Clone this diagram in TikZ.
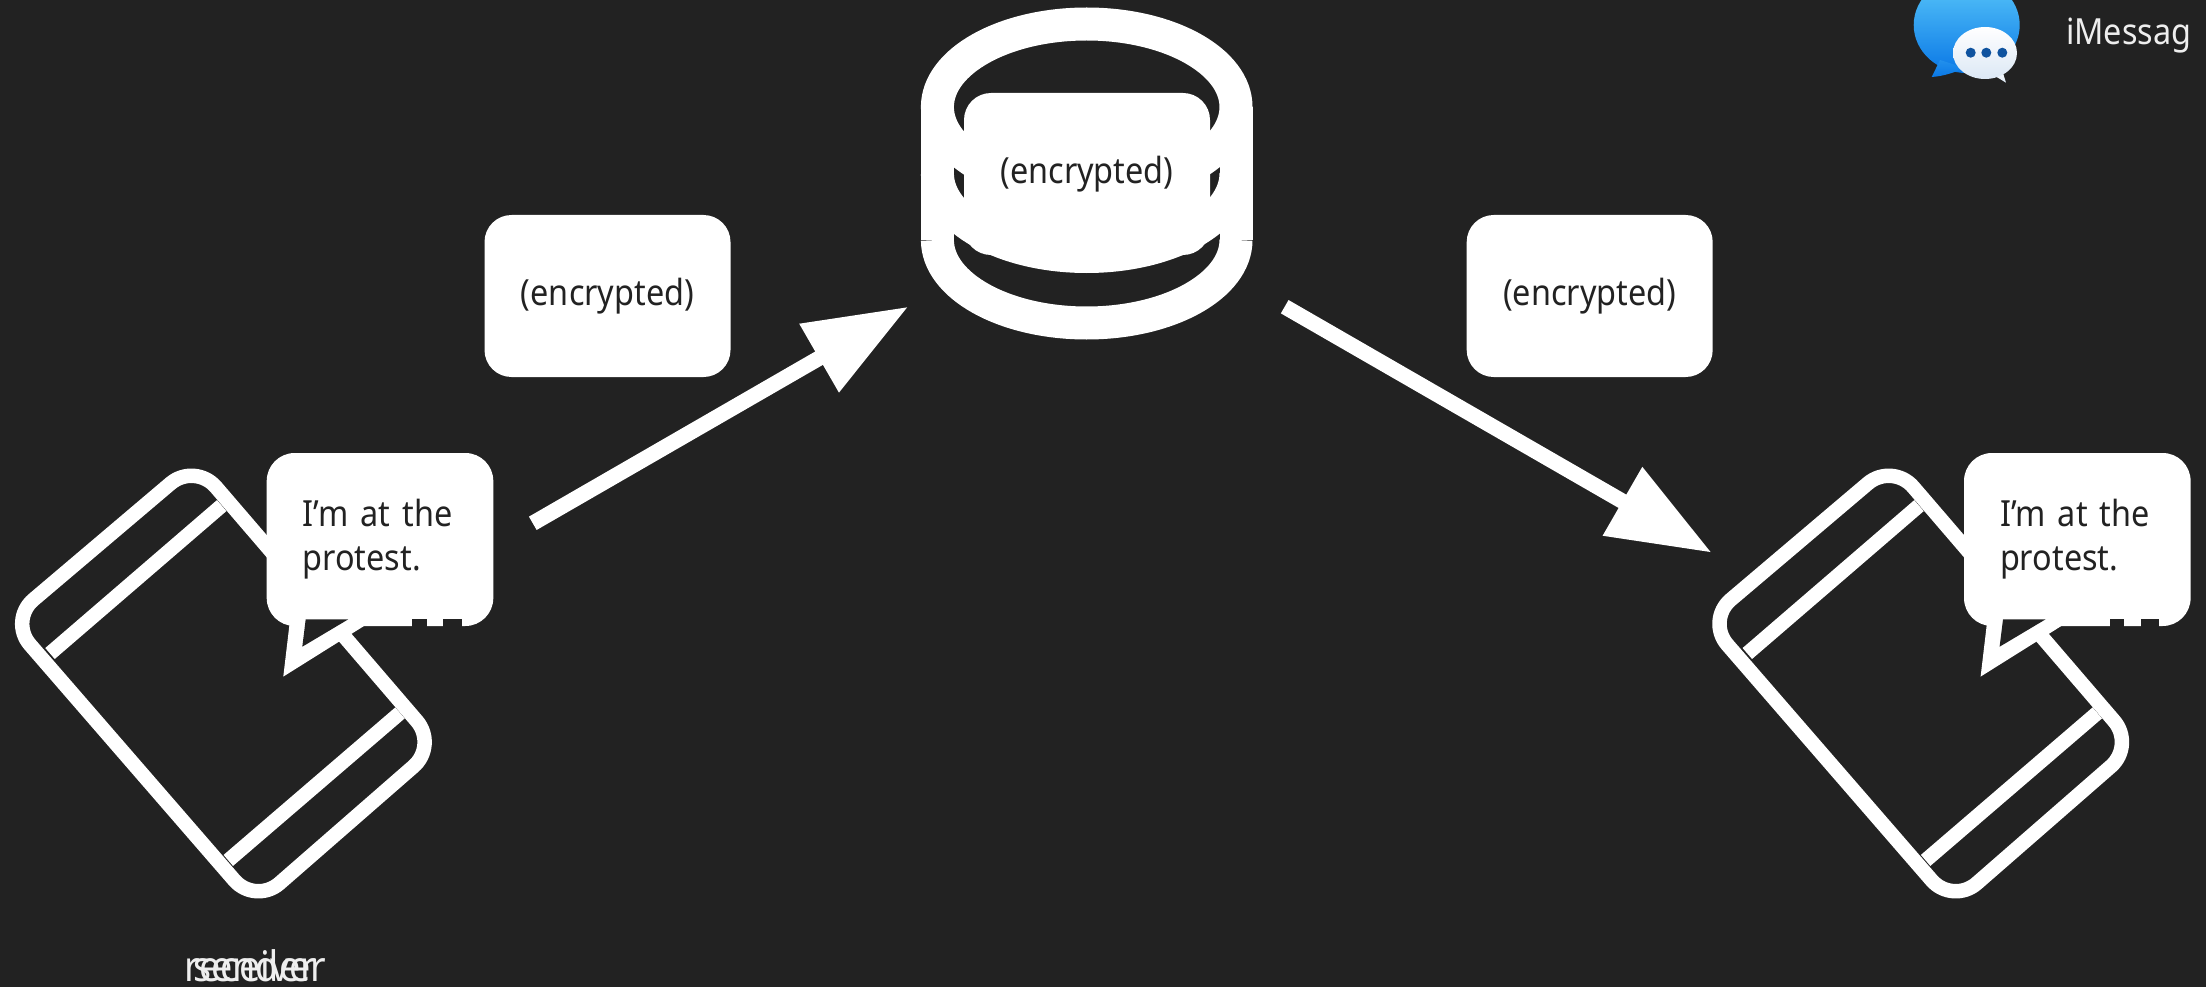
\documentclass[tikz,border=0pt]{standalone}
\usepackage{fontspec}
\setmainfont[FakeStretch=0.9]{Noto Sans}
\usetikzlibrary{arrows.meta}
\definecolor{bg}{HTML}{222222}
\definecolor{ink}{HTML}{222222}
\definecolor{lbl}{HTML}{EEEEEE}
\definecolor{bluetop}{HTML}{5AC8FA}
\definecolor{bluebot}{HTML}{0A78E6}
\definecolor{dotblue}{HTML}{0F539F}
\definecolor{whitebot}{HTML}{DCE8F5}
\tikzset{
  stroke/.style={draw=white,line width=14.5pt,line cap=butt,line join=round},
  msgbox/.style={rectangle,rounded corners=27pt,fill=white,text=ink,minimum width=246pt,minimum height=162pt,inner sep=0pt,font=\fontsize{36}{42}\selectfont},
  bubble/.style={rectangle,rounded corners=28pt,fill=white,text=ink,minimum width=226.6pt,minimum height=173pt,inner ysep=0pt,inner xsep=36pt,text width=154.6pt,align=left,font=\fontsize{36}{44}\selectfont},
  caption/.style={text=lbl,inner sep=0pt,anchor=base,font=\fontsize{42}{48}\selectfont},
  flow/.style={draw=white,line width=15.4pt,-{Triangle[length=103pt,width=75pt]}},
  dbline/.style={draw=white,line width=33pt}
}
\newcommand{\phonewithbubble}[3]{%
  \begin{scope}[xshift=#1pt]
    \draw[stroke,rounded corners=32pt] (195,462.7) -- (9,620.4) -- (255.3,904.4) -- (437.7,745.3) -- cycle;
    \draw[stroke] (50,653.5) -- (221.7,505.6);
    \draw[stroke] (228.3,860.4) -- (400,712.9);
    \fill[white] (290,620) -- (283.3,676.6) -- (364,626) -- (364,620) -- cycle;
    \node[bubble] (#2) at (380,539.5) {I’m at the\\protest.\\[6pt]};
    \fill[bg] (305.7,619.3) -- (348.3,619.3) -- (302.3,646.7) -- cycle;
    \fill[bg] (412.3,619.3) rectangle (426.7,626.5);
    \fill[bg] (443.3,619.3) rectangle (461.7,626.5);
    \node[caption] (#3) at (#3pos) {\csname cap#3\endcsname};
  \end{scope}}
\begin{document}
\begin{tikzpicture}[x=1pt,y=-1pt]
  \clip (0,0) rectangle (2206,987);
  \fill[bg] (0,0) rectangle (2206,987);
  % message store
  \draw[dbline] (1086.7,107) ellipse [x radius=149.3pt,y radius=83pt];
  \draw[dbline] (937.5,107) -- (937.5,240);
  \draw[dbline] (1236,107) -- (1236,240);
  \draw[dbline] (937.4,173.5) arc [start angle=180,end angle=360,x radius=149.3pt,y radius=83pt];
  \draw[dbline] (937.4,240) arc [start angle=180,end angle=360,x radius=149.3pt,y radius=83pt];
  \node[msgbox] (stored) at (1087,174) {(encrypted)};
  % messages in transit
  \node[msgbox] (sent) at (607.5,296) {(encrypted)\hspace{12pt}};
  \node[msgbox] (delivered) at (1589.7,296) {(encrypted)\hspace{12pt}};
  % arrows
  \coordinate (a1s) at (532.8,523.3);
  \coordinate (a1e) at (908.3,306.7);
  \coordinate (a2s) at (1284.7,306.7);
  \coordinate (a2e) at (1711.7,552.7);
  \draw[flow] (a1s) -- (a1e);
  \draw[flow] (a2s) -- (a2e);
  % phones
  \coordinate (senderpos) at (254.5,981);
  \coordinate (receiverpos) at (255.5,981);
  \expandafter\def\csname capsender\endcsname{sender}
  \expandafter\def\csname capreceiver\endcsname{receiver}
  \phonewithbubble{0}{bubblea}{sender}
  \phonewithbubble{1697.3}{bubbleb}{receiver}
  % iMessage badge
  \shade[top color=bluetop,bottom color=bluebot] (1966.7,25) ellipse [x radius=53pt,y radius=48pt];
  \shade[top color=bluetop!30!bluebot,bottom color=bluebot] (1940,60) -- (1931.7,77) .. controls (1945,76) and (1955,72) .. (1965,68) -- cycle;
  \shade[top color=white,bottom color=whitebot] (1995,76) -- (2006,82.7) -- (2002,70) -- cycle;
  \shade[top color=white,bottom color=whitebot] (1985,53) ellipse [x radius=32pt,y radius=26pt];
  \fill[dotblue] (1970.7,52.7) circle [radius=5pt] (1986.3,52.7) circle [radius=5pt] (2002.3,52.7) circle [radius=5pt];
  \node[text=lbl,inner sep=0pt,anchor=base west,font=\fontsize{36}{42}\selectfont] (badge) at (2066,45) {iMessag};
\end{tikzpicture}
\end{document}
